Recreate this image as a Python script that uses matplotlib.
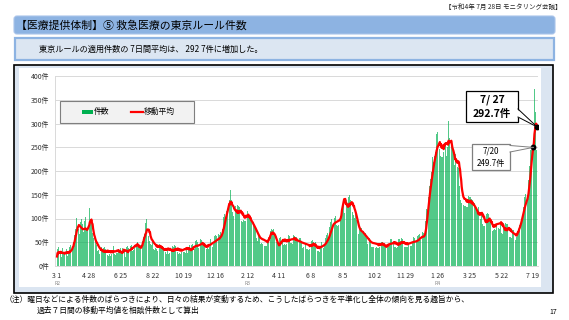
import numpy as np
import pandas as pd
import matplotlib
matplotlib.use("Agg")
import matplotlib.pyplot as plt
from matplotlib.patches import FancyBboxPatch, Rectangle, Polygon
from matplotlib.lines import Line2D

plt.rcParams['font.family'] = ['Noto Sans CJK JP', 'DejaVu Sans']

# --- data (daily counts from 2020-03-01, one week per row) ---
START_DATE = "2020-03-01"
counts = [
    20, 35, 24, 40, 18, 32, 27,
    34, 18, 25, 38, 22, 30, 22,
    24, 38, 20, 36, 33, 22, 30,
    25, 28, 40, 30, 44, 31, 40,
    40, 55, 50, 72, 65, 75, 77,
    72, 102, 70, 110, 78, 95, 68,
    65, 92, 60, 100, 70, 88, 71,
    62, 95, 65, 104, 60, 80, 66,
    75, 115, 85, 122, 105, 92, 78,
    88, 62, 70, 55, 60, 45, 54,
    55, 38, 44, 50, 32, 42, 33,
    40, 25, 38, 28, 40, 27, 33,
    24, 38, 22, 40, 26, 35, 25,
    38, 24, 40, 22, 35, 26, 32,
    22, 40, 26, 36, 20, 42, 24,
    26, 42, 24, 40, 28, 36, 28,
    36, 22, 34, 24, 38, 20, 29,
    26, 38, 28, 62, 30, 22, 18,
    26, 40, 27, 42, 30, 38, 28,
    28, 42, 36, 44, 48, 32, 36,
    34, 54, 38, 58, 40, 46, 38,
    50, 32, 46, 30, 44, 34, 44,
    40, 58, 52, 68, 62, 72, 68,
    65, 90, 62, 100, 82, 70, 63,
    68, 52, 62, 46, 60, 44, 53,
    54, 36, 52, 34, 50, 38, 44,
    35, 50, 32, 48, 34, 47, 41,
    44, 28, 42, 30, 40, 28, 40,
    28, 42, 30, 44, 26, 40, 35,
    42, 26, 40, 28, 42, 26, 34,
    27, 42, 28, 40, 26, 44, 31,
    42, 28, 41, 29, 44, 26, 35,
    28, 40, 26, 43, 30, 27, 44,
    29, 44, 30, 45, 27, 42, 35,
    43, 28, 41, 29, 44, 26, 34,
    30, 45, 36, 46, 38, 50, 35,
    35, 52, 36, 54, 34, 50, 40,
    38, 56, 40, 56, 39, 55, 45,
    50, 34, 49, 35, 48, 33, 45,
    36, 52, 38, 52, 35, 54, 41,
    40, 57, 42, 60, 40, 58, 46,
    45, 64, 47, 66, 46, 63, 54,
    50, 68, 55, 66, 58, 72, 65,
    64, 88, 78, 104, 85, 110, 101,
    98, 132, 115, 135, 120, 145, 130,
    140, 118, 160, 112, 138, 115, 113,
    130, 105, 132, 100, 126, 108, 118,
    100, 128, 102, 126, 104, 125, 113,
    118, 94, 116, 92, 117, 96, 102,
    95, 120, 94, 118, 96, 116, 103,
    110, 86, 108, 84, 102, 82, 93,
    96, 76, 88, 70, 84, 68, 78,
    78, 58, 70, 52, 70, 50, 63,
    64, 46, 64, 48, 62, 46, 62,
    60, 43, 58, 42, 60, 42, 52,
    52, 70, 58, 78, 60, 74, 70,
    78, 58, 76, 56, 77, 57, 67,
    60, 40, 50, 36, 50, 38, 48,
    42, 60, 44, 62, 44, 61, 51,
    62, 45, 62, 46, 64, 44, 55,
    46, 64, 47, 66, 45, 63, 54,
    48, 68, 49, 66, 47, 66, 55,
    63, 45, 62, 46, 61, 44, 57,
    59, 41, 58, 42, 60, 40, 50,
    56, 38, 55, 39, 57, 37, 47,
    53, 35, 52, 36, 54, 34, 44,
    36, 54, 37, 53, 35, 55, 45,
    50, 32, 49, 33, 51, 31, 41,
    31, 49, 32, 48, 30, 50, 40,
    34, 50, 36, 53, 37, 54, 44,
    42, 60, 46, 66, 50, 70, 58,
    60, 82, 68, 92, 75, 98, 85,
    80, 104, 82, 102, 80, 106, 90,
    86, 108, 84, 110, 86, 106, 92,
    105, 128, 120, 185, 128, 145, 134,
    145, 112, 140, 115, 138, 114, 132,
    120, 145, 118, 150, 122, 140, 129,
    138, 114, 132, 108, 124, 102, 108,
    110, 84, 96, 74, 88, 68, 75,
    84, 66, 80, 62, 80, 62, 70,
    74, 56, 70, 52, 70, 52, 60,
    64, 46, 60, 44, 58, 42, 50,
    56, 40, 56, 40, 55, 41, 48,
    54, 38, 53, 39, 52, 38, 48,
    38, 54, 39, 53, 40, 50, 48,
    50, 34, 49, 35, 48, 34, 44,
    38, 54, 39, 55, 39, 51, 46,
    40, 57, 41, 56, 41, 54, 47,
    56, 39, 55, 40, 54, 38, 47,
    40, 57, 41, 56, 42, 53, 47,
    58, 41, 57, 42, 56, 40, 49,
    39, 56, 40, 55, 40, 53, 46,
    42, 59, 43, 58, 43, 56, 49,
    44, 61, 45, 60, 45, 58, 51,
    48, 64, 50, 65, 52, 68, 59,
    54, 72, 54, 72, 52, 70, 60,
    68, 90, 95, 118, 120, 140, 139,
    145, 170, 168, 190, 184, 205, 198,
    200, 230, 218, 245, 232, 245, 240,
    240, 278, 245, 282, 238, 270, 246,
    268, 232, 262, 230, 270, 230, 258,
    240, 300, 245, 262, 275, 232, 245,
    250, 278, 305, 240, 270, 245, 246,
    262, 230, 250, 215, 245, 210, 212,
    212, 235, 210, 232, 208, 236, 207,
    200, 168, 170, 140, 150, 132, 146,
    155, 128, 152, 126, 150, 127, 142,
    125, 150, 124, 148, 122, 146, 130,
    145, 118, 142, 116, 140, 118, 131,
    132, 108, 124, 102, 122, 100, 117,
    98, 124, 96, 122, 98, 121, 111,
    112, 88, 106, 84, 104, 84, 94,
    86, 110, 85, 112, 86, 110, 97,
    100, 78, 96, 74, 96, 73, 85,
    76, 100, 77, 99, 76, 100, 88,
    78, 102, 79, 101, 78, 103, 89,
    94, 70, 92, 68, 90, 67, 79,
    68, 90, 67, 89, 66, 89, 77,
    84, 62, 83, 61, 82, 60, 72,
    76, 56, 75, 55, 76, 55, 69,
    62, 82, 70, 90, 74, 96, 86,
    86, 110, 98, 125, 108, 132, 125,
    118, 145, 128, 152, 135, 158, 144,
    160, 182, 193, 210, 220, 245, 250,
    245, 262, 256, 270, 290, 372, 310,
    325, 275, 245, 232,
]

tick_labels = ["3 1", "4 28", "6 25", "8 22", "10 19", "12 16", "2 12", "4 11",
               "6 8", "8 5", "10 2", "11 29", "1 26", "3 25", "5 22", "7 19"]
tick_dates = ["2020-03-01", "2020-04-28", "2020-06-25", "2020-08-22", "2020-10-19",
              "2020-12-16", "2021-02-12", "2021-04-11", "2021-06-08", "2021-08-05",
              "2021-10-02", "2021-11-29", "2022-01-26", "2022-03-25", "2022-05-22",
              "2022-07-19"]
era_labels = ["R2", "R3", "R4"]
era_dates = ["2020-03-01", "2021-02-12", "2022-01-26"]
callout_dates = ["2022-07-27", "2022-07-20"]
y_ticks = [0, 50, 100, 150, 200, 250, 300, 350, 400]

W, H = 569, 320
start = pd.Timestamp(START_DATE)


def day_of(d):
    return (pd.Timestamp(d) - start).days


days = np.arange(len(counts))
ma = pd.Series(counts, dtype=float).rolling(7, min_periods=1).mean().values

fig = plt.figure(figsize=(W / 100, H / 100), dpi=100)
fig.patch.set_facecolor("white")

# background layer in pixel coordinates (y downwards)
bg = fig.add_axes([0, 0, 1, 1], zorder=0)
bg.set_xlim(0, W)
bg.set_ylim(H, 0)
bg.axis("off")

bg.text(562, 7, "【令和4年 7月 28日 モニタリング会議】", fontsize=4.7,
        ha="right", va="center", color="#222222")

bg.add_patch(FancyBboxPatch((14, 16), 541, 18, boxstyle="round,pad=0,rounding_size=3",
                            fc="#8db3e2", ec="#a9c4ea", lw=0.8))
bg.text(16, 25, "【医療提供体制】⑤ 救急医療の東京ルール件数", fontsize=7.8,
        ha="left", va="center", color="black")

bg.add_patch(Rectangle((15, 38), 539, 22, fc="#dce6f2", ec="#8db3e2", lw=1.6))
bg.text(39, 49, "東京ルールの適用件数の 7日間平均は、 292 7件に増加した。", fontsize=5.9,
        ha="left", va="center", color="black")

# chart frame
bg.add_patch(Rectangle((14, 65), 539, 228, fc="#dbe5f1", ec="black", lw=1.2))
bg.add_patch(Rectangle((19, 68), 522, 219, fc="white", ec="none"))

bg.text(5, 300, "（注）曜日などによる件数のばらつきにより、日々の結果が変動するため、"
        "こうしたばらつきを平準化し全体の傾向を見る趣旨から、",
        fontsize=5.6, ha="left", va="center", color="black")
bg.text(37, 311, "過去７日間の移動平均値を相談件数として算出", fontsize=5.6,
        ha="left", va="center", color="black")
bg.text(557, 312, "17", fontsize=5, ha="right", va="center", color="black")

# main chart axes
ax = fig.add_axes([55 / W, 1 - 266 / H, (538 - 55) / W, (266 - 76) / H], zorder=1)
ax.set_facecolor("white")
ax.bar(days, counts, width=0.85, color="#00b050", alpha=0.68, linewidth=0, zorder=2)
ax.plot(days, ma, color="#ff0000", lw=1.6, zorder=3, solid_joinstyle="round")

ax.set_xlim(-3.7, 879.5)
ax.set_ylim(0, 400)
ax.set_yticks(y_ticks)
ax.set_yticklabels([f"{v}件" for v in y_ticks])
ax.set_xticks([day_of(d) for d in tick_dates])
ax.set_xticklabels(tick_labels)
ax.tick_params(axis="both", length=0, labelsize=5, colors="#333333")
ax.tick_params(axis="y", pad=4)
ax.tick_params(axis="x", pad=4)
ax.grid(axis="y", color="#d9d9d9", lw=0.7, zorder=0)
ax.set_axisbelow(True)
for side in ["top", "right"]:
    ax.spines[side].set_visible(False)
for side in ["left", "bottom"]:
    ax.spines[side].set_color("#d9d9d9")
    ax.spines[side].set_linewidth(0.7)

for lab, d in zip(era_labels, era_dates):
    ax.text(day_of(d), -0.09, lab, transform=ax.get_xaxis_transform(),
            fontsize=3.6, color="#888888", ha="center", va="center")

# legend (drawn by hand to match the framed box)
fg = fig.add_axes([0, 0, 1, 1], zorder=3)
fg.set_xlim(0, W)
fg.set_ylim(H, 0)
fg.axis("off")
fg.add_patch(Rectangle((60, 101), 134, 22, fc="#f2f2f2", ec="#7f7f7f", lw=0.8))
fg.add_patch(Rectangle((82, 110), 11, 4, fc="#00b050", ec="none"))
fg.text(94, 112, "件数", fontsize=5.6, ha="left", va="center")
fg.add_line(Line2D([131, 143], [112, 112], color="#ff0000", lw=1.6))
fg.text(143.5, 112, "移動平均", fontsize=5.6, ha="left", va="center")

# callouts
d27, d20 = day_of(callout_dates[0]), day_of(callout_dates[1])
ax.plot([d27, d20], [ma[d27], ma[d20]], "o", color="black", ms=3.2, zorder=6)


def to_fg(x, y):
    return fg.transData.inverted().transform(ax.transData.transform((x, y)))


def callout(box, tip, y_a, y_b, text, fs, weight, ec):
    x0, y0, w, h = box
    fg.add_patch(Rectangle((x0, y0), w, h, fc="white", ec=ec, lw=0.9))
    xr = x0 + w
    fg.add_patch(Polygon([(xr - 1, y_a), tip, (xr - 1, y_b)], closed=True,
                         fc="white", ec="none"))
    fg.add_line(Line2D([xr, tip[0]], [y_a, tip[1]], color=ec, lw=0.7))
    fg.add_line(Line2D([xr, tip[0]], [y_b, tip[1]], color=ec, lw=0.7))
    fg.text(x0 + w / 2, y0 + h / 2, text, fontsize=fs, fontweight=weight,
            ha="center", va="center", linespacing=1.5)


callout((466, 91, 52, 31), to_fg(d27, ma[d27]), 109, 117,
        f"7/ 27\n{ma[d27]:.1f}件", 7.5, "bold", "black")
callout((472, 144, 38, 26), to_fg(d20, ma[d20]), 145.5, 152,
        f"7/20\n{ma[d20]:.1f}件", 5.8, "normal", "#7f7f7f")

fig.savefig("out.png", dpi=100)
